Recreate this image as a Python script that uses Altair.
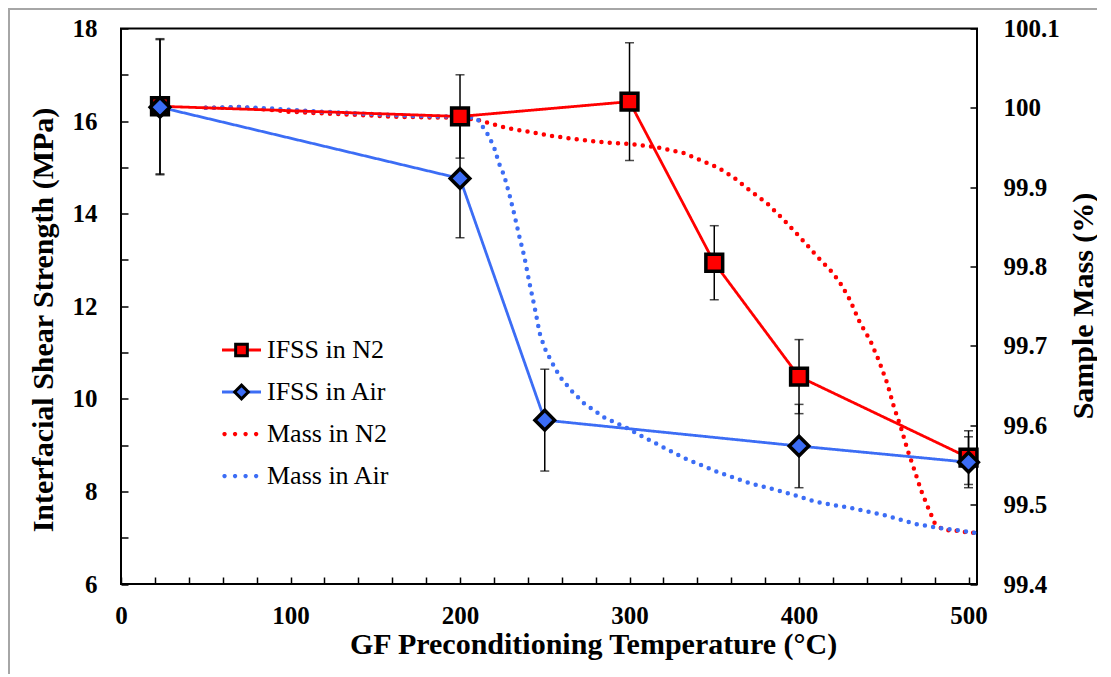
import math
import altair as alt
import pandas as pd

# ---------------- data ----------------
series_names = ["IFSS in N2", "IFSS in Air", "Mass in N2", "Mass in Air"]

n2_temp = [23, 200, 300, 350, 400, 500]
n2_ifss = [16.32, 16.10, 16.42, 12.94, 10.48, 8.73]
n2_err = [1.46, 0.90, 1.27, 0.80, 0.80, 0.58]

air_temp = [23, 200, 250, 400, 500]
air_ifss = [16.30, 14.76, 9.54, 8.98, 8.63]
air_err = [1.46, 1.28, 1.10, 0.90, 0.55]

mass_n2_temp = [50, 60, 70, 80, 90, 100, 120, 140, 160, 180, 200, 210, 220, 227, 240,
                253, 270, 283, 302, 317, 332, 342, 352, 361, 371, 381, 391, 401, 411,
                420, 425, 430, 436, 442, 447, 452, 456, 460, 464, 468, 472, 476, 480,
                485, 493, 500, 505]
mass_n2 = [100.000, 100.000, 100.001, 99.999, 99.997, 99.995, 99.993, 99.991, 99.989,
           99.988, 99.988, 99.985, 99.979, 99.975, 99.970, 99.965, 99.960, 99.957,
           99.954, 99.950, 99.943, 99.934, 99.925, 99.913, 99.896, 99.880, 99.859,
           99.836, 99.812, 99.792, 99.777, 99.758, 99.729, 99.707, 99.682, 99.653,
           99.623, 99.598, 99.569, 99.544, 99.518, 99.497, 99.477, 99.468, 99.467,
           99.465, 99.464]

mass_air_temp = [50, 70, 90, 110, 130, 150, 170, 190, 200, 210, 216, 220, 223, 226, 229,
                 232, 235, 238, 241, 244, 247, 250, 254, 259, 266, 273, 285, 298, 312,
                 332, 352, 371, 391, 411, 430, 450, 468, 481, 493, 505]
mass_air = [100.000, 100.001, 99.999, 99.996, 99.994, 99.992, 99.990, 99.989, 99.989,
            99.987, 99.968, 99.951, 99.930, 99.915, 99.892, 99.866, 99.838, 99.812,
            99.779, 99.749, 99.716, 99.697, 99.680, 99.661, 99.643, 99.628, 99.610,
            99.597, 99.581, 99.559, 99.541, 99.527, 99.516, 99.503, 99.496, 99.487,
            99.476, 99.471, 99.468, 99.464]

x_ticks = list(range(0, 501, 20))
left_ticks = list(range(6, 19))
right_ticks = [99.4, 99.5, 99.6, 99.7, 99.8, 99.9, 100.0, 100.1]

RED = "#ff0000"
BLUE = "#3c6df5"
FONT = "Liberation Serif"

# marker keys: distinct from the line-series keys so the two legends stay separate
marker_names = [s + " " for s in series_names]

# ---------------- tables ----------------
ifss_df = pd.DataFrame({
    "T": n2_temp + air_temp,
    "ifss": n2_ifss + air_ifss,
    "err": n2_err + air_err,
    "series": [series_names[0]] * len(n2_temp) + [series_names[1]] * len(air_temp),
    "marker": [marker_names[0]] * len(n2_temp) + [marker_names[1]] * len(air_temp),
})
ifss_df["lo"] = ifss_df["ifss"] - ifss_df["err"]
ifss_df["hi"] = ifss_df["ifss"] + ifss_df["err"]

mass_df = pd.DataFrame({
    "T": mass_n2_temp + mass_air_temp,
    "mass": mass_n2 + mass_air,
    "series": [series_names[2]] * len(mass_n2_temp) + [series_names[3]] * len(mass_air_temp),
})

# ---------------- scales / axes ----------------
x_scale = alt.Scale(domain=[0, 505], nice=False, zero=False)
yl_scale = alt.Scale(domain=[6, 18], nice=False, zero=False)
yr_scale = alt.Scale(domain=[99.4, 100.1], nice=False, zero=False)

common_axis = dict(
    domain=False, grid=False, tickSize=7, offset=-7, tickColor="black", tickWidth=1.5,
    labelFont=FONT, labelFontWeight="bold", labelFontSize=25, labelColor="black",
    labelOverlap=False, labelFlush=False, labelBound=False,
    titleFont=FONT, titleFontWeight="bold", titleFontSize=30, titleColor="black",
)

x_axis = alt.Axis(
    values=x_ticks, format="d",
    labelExpr="datum.value % 100 == 0 ? datum.label : ''",
    labelPadding=19,
    title="GF Preconditioning Temperature (°C)",
    titleX=472, titleY=76, titleAlign="center", titleBaseline="alphabetic",
    titleAnchor="start",
    **common_axis,
)
yl_axis = alt.Axis(
    orient="left", values=left_ticks,
    labelExpr="datum.value % 2 == 0 ? datum.label : ''",
    labelPadding=24,
    title="Interfacial Shear Strength (MPa)",
    titleX=-76, titleY=291, titleAngle=270, titleAlign="center",
    titleBaseline="alphabetic", titleAnchor="start",
    **common_axis,
)
yr_axis = alt.Axis(
    orient="right", values=right_ticks,
    labelExpr="replace(format(datum.value, '.1f'), '.0', '')",
    labelPadding=26,
    title="Sample Mass (%)",
    titleX=122, titleY=277, titleAngle=270, titleAlign="center",
    titleBaseline="alphabetic", titleAnchor="start",
    **common_axis,
)

X = alt.X("T:Q", scale=x_scale, axis=x_axis)

legend_common = dict(
    orient="none", legendX=99.5, legendY=300.5, title=None, padding=0, rowPadding=8,
    symbolSize=1521, symbolStrokeWidth=3,
    labelFont=FONT, labelFontSize=26, labelColor="black", labelFontWeight="normal",
    labelOffset=4.5, labelLimit=300,
)
line_legend = alt.Legend(symbolType="stroke", **legend_common)
point_legend = alt.Legend(labelOpacity=0, **legend_common)

color = alt.Color("series:N", scale=alt.Scale(domain=series_names,
                                               range=[RED, BLUE, RED, BLUE]),
                  legend=line_legend)
dash = alt.StrokeDash("series:N", scale=alt.Scale(domain=series_names,
                                                   range=[[1, 0], [1, 0], [0, 8.3], [0, 8.3]]),
                      legend=line_legend)


# symbol shapes (unit square -1..1)
def poly(cx, cy, r, n=10):
    pts = [(cx + r * math.cos(2 * math.pi * k / n), cy + r * math.sin(2 * math.pi * k / n))
           for k in range(n)]
    return "M" + "L".join(f"{x:.3f},{y:.3f}" for x, y in pts) + "Z"


square_path = "M-0.3,-0.3L0.3,-0.3L0.3,0.3L-0.3,0.3Z"
diamond_path = "M0,-0.35L0.35,0L0,0.35L-0.35,0Z"
dots_path = "".join(poly(c, 0, 0.115) for c in [-0.87, -0.33, 0.21, 0.75])

# ---------------- layers ----------------
mass_lines = alt.Chart(mass_df).mark_line(strokeWidth=4.5, strokeCap="round").encode(
    x=X,
    y=alt.Y("mass:Q", scale=yr_scale, axis=yr_axis),
    color=color, strokeDash=dash, detail="series:N",
)

base = alt.Chart(ifss_df)
YL = alt.Y("ifss:Q", scale=yl_scale, axis=yl_axis)

err_rules = base.mark_rule(color="black", strokeWidth=1.5).encode(
    x=X, y=alt.Y("lo:Q", scale=yl_scale, axis=yl_axis), y2="hi:Q")
err_lo = base.mark_tick(orient="horizontal", size=9, thickness=1.5, color="black").encode(
    x=X, y=alt.Y("lo:Q", scale=yl_scale, axis=yl_axis))
err_hi = base.mark_tick(orient="horizontal", size=9, thickness=1.5, color="black").encode(
    x=X, y=alt.Y("hi:Q", scale=yl_scale, axis=yl_axis))

ifss_lines = base.mark_line(strokeWidth=2.8).encode(
    x=X, y=YL, color=color, strokeDash=dash, detail="series:N")

points = base.mark_point(filled=True, size=3136, strokeWidth=3.5, opacity=1).encode(
    x=X, y=YL,
    shape=alt.Shape("marker:N", scale=alt.Scale(domain=marker_names,
                                                 range=[square_path, diamond_path,
                                                        dots_path, dots_path]),
                    legend=point_legend),
    fill=alt.Fill("marker:N", scale=alt.Scale(domain=marker_names,
                                               range=[RED, BLUE, RED, BLUE]),
                  legend=point_legend),
    stroke=alt.Stroke("marker:N", scale=alt.Scale(domain=marker_names,
                                                   range=["black", "black",
                                                          "transparent", "transparent"]),
                      legend=point_legend),
)

frame_df = pd.DataFrame({"k": [0]})
frame_top = alt.Chart(frame_df).mark_rule(color="#a6a6a6", strokeWidth=2).encode(
    x=alt.value(-113), x2=alt.value(990), y=alt.value(-19.5))
frame_left = alt.Chart(frame_df).mark_rule(color="#a6a6a6", strokeWidth=2).encode(
    x=alt.value(-112), y=alt.value(-20.5), y2=alt.value(650))

left_group = alt.layer(err_rules, err_lo, err_hi, ifss_lines, points)

chart = alt.layer(frame_top, frame_left, mass_lines, left_group).resolve_scale(
    y="independent"
).properties(
    width=856, height=555.5,
    autosize=alt.AutoSizeParams(type="none"),
    padding={"left": 113, "top": 20.5, "right": 120, "bottom": 90},
    background="white",
).configure(
    font=FONT
).configure_view(
    stroke="black", strokeWidth=2
).configure_legend(
    labelFont=FONT, labelFontSize=26, labelColor="black"
)

chart.save("out.html", embed_options={"renderer": "svg", "actions": False})
